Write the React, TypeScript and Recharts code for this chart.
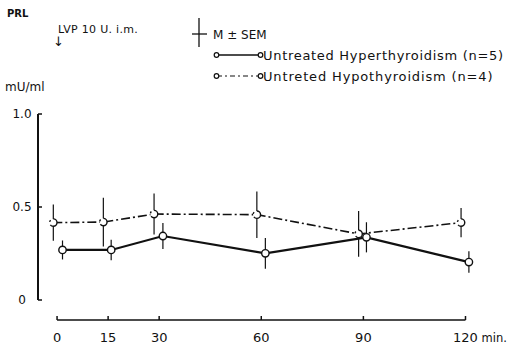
import { LineChart, Line, XAxis, YAxis, ErrorBar, ReferenceLine, Legend } from "recharts";

const FONT = "'DejaVu Sans', sans-serif";

const timeTicks = [0, 15, 30, 60, 90, 120];
const valueTicks = [0, 0.5, 1.0];

// the two series are drawn slightly staggered around each sampling time, as in the original
const hyperTimes = [1.6, 15.9, 31.1, 61.2, 90.9, 121];
const hyperMean = [0.269, 0.269, 0.344, 0.251, 0.337, 0.204];
const hyperSem = [0.051, 0.055, 0.07, 0.083, 0.081, 0.058];

const hypoTimes = [-1.1, 13.6, 28.5, 58.7, 88.6, 118.7];
const hypoMean = [0.416, 0.419, 0.462, 0.459, 0.355, 0.416];
const hypoSem = [0.098, 0.131, 0.11, 0.125, 0.123, 0.079];

// time range kept a little wider than 0-120 so the y axis stands apart from t=0
const timeDomain = [-5.6, 122.5];
// detached time axis sits a bit below the 0 line
const TIME_AXIS_LEVEL = -0.1075;

const hyperData = hyperTimes.map((t, i) => ({ t, v: hyperMean[i], e: hyperSem[i] }));
const hypoData = hypoTimes.map((t, i) => ({ t, v: hypoMean[i], e: hypoSem[i] }));

const TimeTick = (props: any) => {
  const { x, y, payload } = props;
  return (
    <g>
      <text x={x} y={y} dy={10} textAnchor="middle" fontSize={13} fill="#111" fontFamily={FONT}>
        {payload.value}
      </text>
      {payload.value === 120 && (
        <text x={x + 16} y={y} dy={10} fontSize={11.5} fill="#111" fontFamily={FONT}>
          min.
        </text>
      )}
    </g>
  );
};

const Header = () => (
  <svg width={508} height={100} style={{ fontFamily: FONT, display: "block" }}>
    <text x={7} y={17} fontSize={10} fontWeight="bold" fill="#111">PRL</text>
    <text x={58} y={33} fontSize={11} letterSpacing={0.3} fill="#111">LVP 10 U. i.m.</text>
    <text x={58.5} y={46} fontSize={13} textAnchor="middle" fill="#111">↓</text>
    <line x1={199} y1={18} x2={199} y2={47} stroke="#111" strokeWidth={1.3} />
    <line x1={192} y1={34} x2={207} y2={34} stroke="#111" strokeWidth={1.3} />
    <text x={213} y={38.5} fontSize={12} fill="#111">M ± SEM</text>
    <line x1={217} y1={55} x2={260} y2={55} stroke="#111" strokeWidth={1.3} />
    <circle cx={216.5} cy={55} r={2.3} fill="#fff" stroke="#111" strokeWidth={1.2} />
    <circle cx={260.5} cy={55} r={2.3} fill="#fff" stroke="#111" strokeWidth={1.2} />
    <text x={263} y={60} fontSize={13} letterSpacing={0.7} fill="#111">
      Untreated Hyperthyroidism (n=5)
    </text>
    <line x1={217} y1={76} x2={260} y2={76} stroke="#111" strokeWidth={1.2} strokeDasharray="5 3 2 3" />
    <circle cx={216.5} cy={76} r={2.3} fill="#fff" stroke="#111" strokeWidth={1.2} />
    <circle cx={260.5} cy={76} r={2.3} fill="#fff" stroke="#111" strokeWidth={1.2} />
    <text x={263} y={81} fontSize={13} letterSpacing={0.85} fill="#111">
      Untreted Hypothyroidism (n=4)
    </text>
    <text x={5} y={91} fontSize={12} fill="#111">mU/ml</text>
  </svg>
);

export default function App() {
  return (
    <div style={{ position: "absolute", left: 0, top: 0, background: "#fff" }}>
      <LineChart width={508} height={348} margin={{ top: 114, right: 34, left: 0, bottom: 0 }}>
        <Legend
          layout="horizontal"
          verticalAlign="middle"
          align="center"
          wrapperStyle={{ left: 0, top: 0, width: 508, height: 100 }}
          content={() => <Header />}
        />
        <XAxis xAxisId="gap" type="number" domain={[0, 1]} height={20} tick={false} axisLine={false} tickLine={false} />
        <XAxis
          xAxisId="main"
          type="number"
          dataKey="t"
          domain={timeDomain}
          ticks={timeTicks}
          height={28}
          axisLine={false}
          tickLine={{ stroke: "#111", strokeWidth: 1.5 }}
          tickSize={-4}
          tickMargin={16}
          tick={<TimeTick />}
        />
        <YAxis
          type="number"
          domain={[0, 1]}
          ticks={valueTicks}
          width={38}
          axisLine={{ stroke: "#111", strokeWidth: 2 }}
          tickLine={{ stroke: "#111", strokeWidth: 1.5 }}
          tickSize={-4}
          tickMargin={20}
          tickFormatter={(v: number) => (v === 0 ? "0" : v.toFixed(1))}
          tick={{ fontSize: 12, fill: "#111", fontFamily: FONT, textAnchor: "middle" }}
        />
        <ReferenceLine
          xAxisId="main"
          segment={[
            { x: 0, y: TIME_AXIS_LEVEL },
            { x: 120, y: TIME_AXIS_LEVEL },
          ]}
          stroke="#111"
          strokeWidth={1.5}
          ifOverflow="visible"
        />
        <Line
          xAxisId="main"
          data={hypoData}
          dataKey="v"
          stroke="#111"
          strokeWidth={1.6}
          strokeDasharray="9 3 2 3"
          dot={{ r: 3.7, fill: "#fff", stroke: "#111", strokeWidth: 1.4 }}
          activeDot={false}
          isAnimationActive={false}
        >
          <ErrorBar dataKey="e" width={0} stroke="#111" strokeWidth={1.2} direction="y" />
        </Line>
        <Line
          xAxisId="main"
          data={hyperData}
          dataKey="v"
          stroke="#111"
          strokeWidth={2.2}
          dot={{ r: 3.7, fill: "#fff", stroke: "#111", strokeWidth: 1.4 }}
          activeDot={false}
          isAnimationActive={false}
        >
          <ErrorBar dataKey="e" width={0} stroke="#111" strokeWidth={1.2} direction="y" />
        </Line>
      </LineChart>
    </div>
  );
}
